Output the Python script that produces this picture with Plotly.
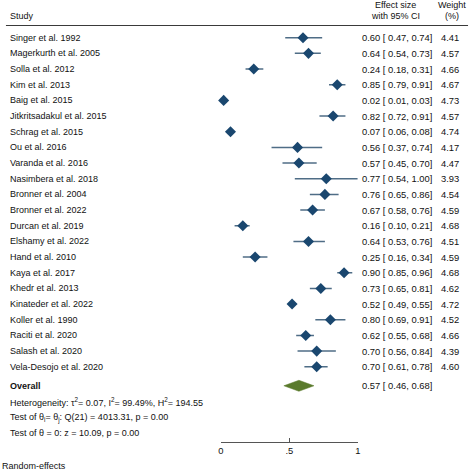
import plotly.graph_objects as go

# ---- data ----
studies = ["Singer et al. 1992", "Magerkurth et al. 2005", "Solla et al. 2012", "Kim et al. 2013",
           "Baig et al. 2015", "Jitkritsadakul et al. 2015", "Schrag et al. 2015", "Ou et al. 2016",
           "Varanda et al. 2016", "Nasimbera et al. 2018", "Bronner et al. 2004", "Bronner et al. 2022",
           "Durcan et al. 2019", "Elshamy et al. 2022", "Hand et al. 2010", "Kaya et al. 2017",
           "Khedr et al. 2013", "Kinateder et al. 2022", "Koller et al. 1990", "Raciti et al. 2020",
           "Salash et al. 2020", "Vela-Desojo et al. 2020"]
effect = [0.60, 0.64, 0.24, 0.85, 0.02, 0.82, 0.07, 0.56, 0.57, 0.77, 0.76, 0.67,
          0.16, 0.64, 0.25, 0.90, 0.73, 0.52, 0.80, 0.62, 0.70, 0.70]
ci_low = [0.47, 0.54, 0.18, 0.79, 0.01, 0.72, 0.06, 0.37, 0.45, 0.54, 0.65, 0.58,
          0.10, 0.53, 0.16, 0.85, 0.65, 0.49, 0.69, 0.55, 0.56, 0.61]
ci_high = [0.74, 0.73, 0.31, 0.91, 0.03, 0.91, 0.08, 0.74, 0.70, 1.00, 0.86, 0.76,
           0.21, 0.76, 0.34, 0.96, 0.81, 0.55, 0.91, 0.68, 0.84, 0.78]
weights = [4.41, 4.57, 4.66, 4.67, 4.73, 4.57, 4.74, 4.17, 4.47, 3.93, 4.54, 4.59,
           4.68, 4.51, 4.59, 4.68, 4.62, 4.72, 4.52, 4.66, 4.39, 4.60]
overall = [0.57, 0.46, 0.68]  # estimate, low, high
tick_vals = [0, 0.5, 1]
tick_text = ["0", ".5", "1"]
footer_lines = [
    "Heterogeneity: τ<sup>2</sup>= 0.07, I<sup>2</sup>= 99.49%, H<sup>2</sup>= 194.55",
    "Test of θ<sub>i</sub>= θ<sub>j</sub>: Q(21) = 4013.31, p = 0.00",
    "Test of θ = 0: z = 10.09, p = 0.00",
]

# ---- layout geometry ----
W, H = 474, 470
ROW0, STEP = 37.7, 15.67
n = len(studies)
rows = list(range(n))
overall_row = 21 + 19 / STEP
footer_rows = [overall_row + 16 / STEP, overall_row + 32.3 / STEP, overall_row + 47.6 / STEP]
y_top = -ROW0 / STEP
y_bot = (H - ROW0) / STEP

FONT = "Liberation Sans, Arial, Helvetica, sans-serif"
FS = 9.4
FS_LAB = 9.0
TXT = "#111111"

fig = go.Figure()

# CI lines
lx, ly = [], []
for r, lo, hi in zip(rows, ci_low, ci_high):
    lx += [lo, hi, None]
    ly += [r, r, None]
fig.add_trace(go.Scatter(x=lx, y=ly, mode="lines", line=dict(color="#4f6d86", width=1.5),
                         hoverinfo="skip", showlegend=False))

# point estimates
fig.add_trace(go.Scatter(x=effect, y=rows, mode="markers",
                         marker=dict(symbol="diamond", size=8.5, color="#1a476f", line=dict(width=0)),
                         cliponaxis=False, showlegend=False))

# overall diamond
hh = 5.5 / STEP
est, olo, ohi = overall
fig.add_trace(go.Scatter(x=[olo, est, ohi, est, olo],
                         y=[overall_row, overall_row - hh, overall_row, overall_row + hh, overall_row],
                         mode="lines", fill="toself", fillcolor="#5a7a2c",
                         line=dict(color="#5a7a2c", width=0.5), showlegend=False))

ann = []
def add(text, x, y, xanchor="left", yref="y", size=FS, **kw):
    ann.append(dict(text=text, x=x, y=y, xref="paper", yref=yref, xanchor=xanchor,
                    yanchor="middle", showarrow=False,
                    font=dict(family=FONT, size=size, color=TXT), **kw))

for r, s, e, lo, hi, w in zip(rows, studies, effect, ci_low, ci_high, weights):
    add(s, 5 / W, r, size=FS_LAB)
    add(f"{e:.2f} [ {lo:.2f}, {hi:.2f}]", 362 / W, r)
    add(f"{w:.2f}", 464 / W, r, xanchor="right")

add("<b>Overall</b>", 5 / W, overall_row, size=FS_LAB)
add(f"{est:.2f} [ {olo:.2f}, {ohi:.2f}]", 362 / W, overall_row)
for t, r in zip(footer_lines, footer_rows):
    add(t, 5 / W, r, size=FS_LAB)

# header
def py(p):
    return 1 - p / H
add("Study", 5 / W, py(16.5), yref="paper", size=FS_LAB)
add("Effect size", 398 / W, py(5.5), xanchor="center", yref="paper", size=FS_LAB)
add("with 95% CI", 398 / W, py(16.5), xanchor="center", yref="paper", size=FS_LAB)
add("Weight", 455 / W, py(5.5), xanchor="center", yref="paper", size=FS_LAB)
add("(%)", 455 / W, py(16.5), xanchor="center", yref="paper", size=FS_LAB)
add("Random-effects", 0, py(465.5), yref="paper", xshift=-3, size=FS_LAB)

fig.update_layout(
    width=W, height=H, margin=dict(l=0, r=0, t=0, b=0),
    paper_bgcolor="white", plot_bgcolor="white",
    annotations=ann,
    shapes=[dict(type="line", xref="paper", yref="paper", x0=3 / W, x1=471 / W,
                 y0=py(25.5), y1=py(25.5), line=dict(color="#3a3a3a", width=1))],
    xaxis=dict(domain=[220.7 / W, 359.3 / W], range=[0, 1], anchor="free", position=py(441.7),
               showline=True, linecolor="#555555", linewidth=1, ticks="inside", ticklen=4,
               tickcolor="#555555", tickwidth=1, tickvals=tick_vals, ticktext=tick_text,
               showgrid=False, zeroline=False, fixedrange=True,
               tickfont=dict(family=FONT, size=FS, color=TXT)),
    yaxis=dict(domain=[0, 1], range=[y_bot, y_top], visible=False, showgrid=False,
               zeroline=False, fixedrange=True),
    font=dict(family=FONT, size=FS, color=TXT),
    showlegend=False,
    hovermode=False,
)

fig.write_html("out.html", config={"displayModeBar": False},
               post_script="document.body.style.margin='0';document.body.style.overflow='hidden';")
